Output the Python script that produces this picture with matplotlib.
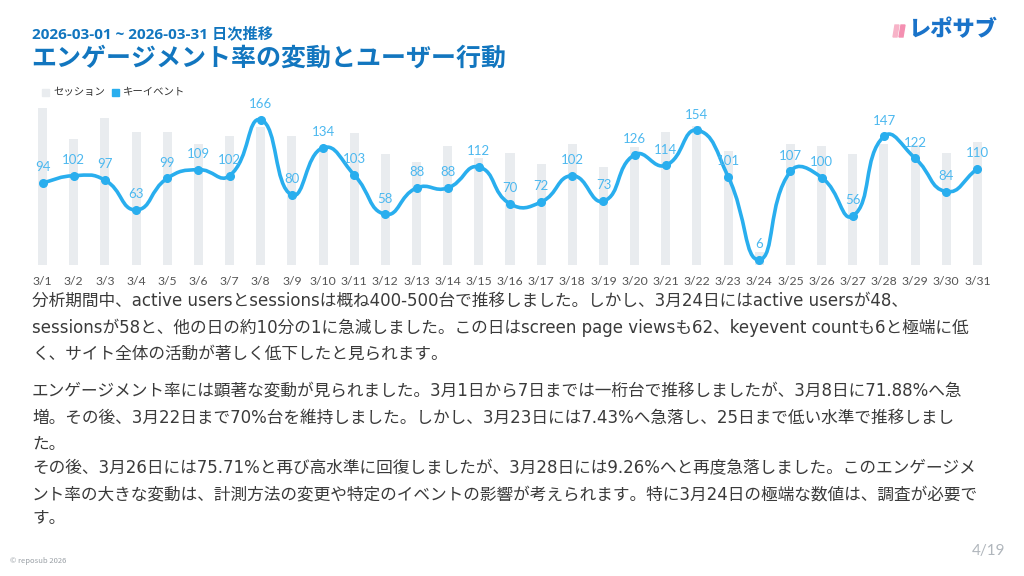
import numpy as np
import matplotlib
matplotlib.use("Agg")
import matplotlib.pyplot as plt
from matplotlib.path import Path
from matplotlib.patches import PathPatch, Rectangle, Polygon

plt.rcParams['font.family'] = ['Noto Sans CJK JP', 'DejaVu Sans']

# ---------------- data ----------------
dates = [f"3/{d}" for d in range(1, 32)]
sessions = [696, 560, 653, 591, 591, 536, 575, 612, 572, 511, 587,
            493, 456, 529, 474, 498, 449, 538, 437, 526, 592, 619,
            507, 58, 538, 528, 495, 536, 533, 496, 548]
keyevents = [94, 102, 97, 63, 99, 109, 102, 166, 80, 134, 103,
             58, 88, 88, 112, 70, 72, 102, 73, 126, 114, 154,
             101, 6, 107, 100, 56, 147, 122, 84, 110]

subtitle = "2026-03-01 ~ 2026-03-31 日次推移"
title = "エンゲージメント率の変動とユーザー行動"
legend_labels = ["セッション", "キーイベント"]
para1 = ["分析期間中、active usersとsessionsは概ね400-500台で推移しました。しかし、3月24日にはactive usersが48、",
         "sessionsが58と、他の日の約10分の1に急減しました。この日はscreen page viewsも62、keyevent countも6と極端に低",
         "く、サイト全体の活動が著しく低下したと見られます。"]
para2 = ["エンゲージメント率には顕著な変動が見られました。3月1日から7日までは一桁台で推移しましたが、3月8日に71.88%へ急",
         "増。その後、3月22日まで70%台を維持しました。しかし、3月23日には7.43%へ急落し、25日まで低い水準で推移しまし",
         "た。",
         "その後、3月26日には75.71%と再び高水準に回復しましたが、3月28日には9.26%へと再度急落しました。このエンゲージメ",
         "ント率の大きな変動は、計測方法の変更や特定のイベントの影響が考えられます。特に3月24日の極端な数値は、調査が必要で",
         "す。"]
footer_left = "© reposub 2026"
page = "4/19"

# ---------------- style ----------------
W, H = 1024, 576
BAR_C = "#e9ecef"
LINE_C = "#29aeee"
LABEL_C = "#4cb8ef"
TITLE_C = "#1276bf"
TEXT_C = "#3a3a3a"
BODY_FONT = ['DejaVu Sans', 'Noto Sans CJK JP']
SUB_FONT = ['Open Sans', 'Noto Sans CJK JP']
NUM_FONT = ['Lato', 'DejaVu Sans']

fig = plt.figure(figsize=(W / 100, H / 100), dpi=100)
fig.patch.set_facecolor("white")

def fx(px):
    return px / W

def fy(py):
    return 1 - py / H

# plot area in pixels
L, R, T, B = 27, 993, 107.5, 265
ax = fig.add_axes([fx(L), fy(B), (R - L) / W, (B - T) / H])
ax2 = ax.twinx()
x = np.arange(len(dates))
ax.bar(x, sessions, width=0.29, color=BAR_C, zorder=1)
ax.set_ylim(0, 700)
ax.set_xlim(-0.5, len(dates) - 0.5)
ax2.set_ylim(0, 180)
ax2.set_xlim(-0.5, len(dates) - 0.5)

for a in (ax, ax2):
    for s in a.spines.values():
        s.set_visible(False)
    a.set_yticks([])
    a.set_facecolor("none")
ax.set_xticks(x)
ax.set_xticklabels(dates, fontsize=8.8, color="#555555", family=NUM_FONT)
ax.tick_params(axis='x', length=0, pad=8)
ax2.tick_params(axis='x', length=0)

# smooth line (ECharts-like bezier smoothing, smooth=0.5)
sx = (R - L) / len(dates)
sy = (B - T) / 180.0
P = np.column_stack([x * sx, np.array(keyevents, float) * sy])
n = len(P)
smooth = 0.5
cps_in = []
cps_out = []
for i in range(n):
    prev = P[i - 1] if i > 0 else P[i]
    nxt = P[i + 1] if i < n - 1 else P[i]
    v = nxt - prev
    d0 = np.linalg.norm(P[i] - prev)
    d1 = np.linalg.norm(nxt - P[i])
    tot = d0 + d1
    r = d1 / tot if tot > 0 else 0.5
    cps_in.append(P[i] - v * smooth * (1 - r))
    cps_out.append(P[i] + v * smooth * r)
verts = [P[0]]
codes = [Path.MOVETO]
for i in range(n - 1):
    verts += [cps_out[i], cps_in[i + 1], P[i + 1]]
    codes += [Path.CURVE4] * 3
verts = np.array(verts)
verts[:, 0] /= sx
verts[:, 1] /= sy
ax2.add_patch(PathPatch(Path(verts, codes), fill=False, edgecolor=LINE_C, lw=2.6,
                        capstyle='round', joinstyle='round', zorder=3))
ax2.plot(x, keyevents, 'o', color=LINE_C, ms=5.5, zorder=4)
for xi, v in zip(x, keyevents):
    ax2.annotate(str(v), (xi, v), xytext=(0, 7), textcoords='offset points',
                 ha='center', va='bottom', fontsize=9.5, color=LABEL_C,
                 family=NUM_FONT, zorder=5)

# titles
fig.text(fx(32), fy(34), subtitle, fontsize=11, fontweight='bold', color=TITLE_C,
         va='center', ha='left', family=SUB_FONT)
fig.text(fx(31), fy(59), title, fontsize=18, fontweight='bold', color=TITLE_C,
         va='center', ha='left')

# legend
fig.patches.append(Rectangle((fx(42), fy(95.5)), 7 / W, 7 / H, transform=fig.transFigure,
                             color=BAR_C, figure=fig))
fig.text(fx(53), fy(92), legend_labels[0], fontsize=7.5, color="#333333", va='center')
fig.patches.append(Rectangle((fx(112), fy(95.5)), 7 / W, 7 / H, transform=fig.transFigure,
                             color=LINE_C, figure=fig))
fig.text(fx(123), fy(92), legend_labels[1], fontsize=7.5, color="#333333", va='center')

# body text
ys1 = [301, 328, 354]
for yy, line in zip(ys1, para1):
    fig.text(fx(32), fy(yy), line, fontsize=12, color=TEXT_C, va='center', ha='left',
             family=BODY_FONT)
ys2 = [391, 418, 444, 468, 494, 518]
for yy, line in zip(ys2, para2):
    fig.text(fx(32), fy(yy), line, fontsize=12, color=TEXT_C, va='center', ha='left',
             family=BODY_FONT)

# footer
fig.text(fx(10), fy(561), footer_left, fontsize=5.5, color="#9aa0a6", va='center')
fig.text(fx(1005), fy(551), page, fontsize=11, color="#b0b6bc", va='center', ha='right',
         family=NUM_FONT)

# logo
for i, (x0, c) in enumerate([(893, "#f7b3c8"), (899, "#f48fb1")]):
    fig.patches.append(Polygon([(fx(x0), fy(37)), (fx(x0 + 4), fy(37)), (fx(x0 + 6), fy(25)),
                                (fx(x0 + 2), fy(25))], closed=True, transform=fig.transFigure,
                               color=c, figure=fig))
fig.text(fx(908), fy(30), "レポサブ", fontsize=16, fontweight='heavy', color="#1a73c9",
         va='center', ha='left', style='italic')

fig.savefig("out.png", dpi=100, facecolor="white")
